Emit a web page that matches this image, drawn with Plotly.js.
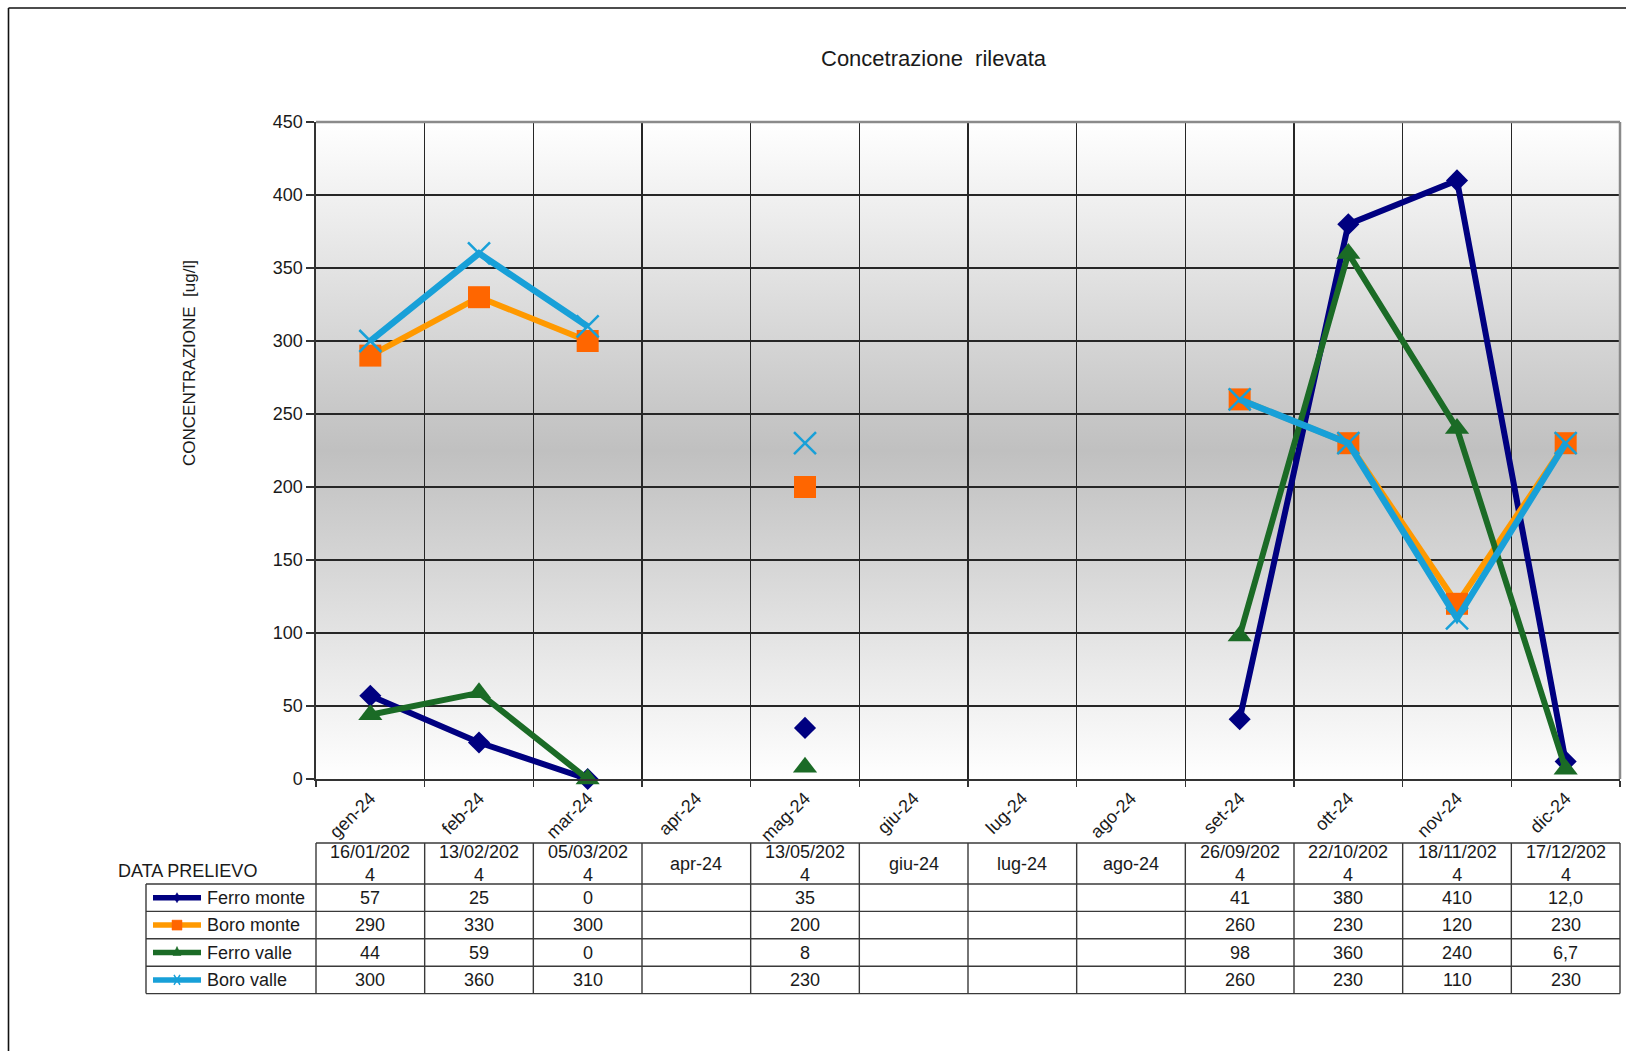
<!DOCTYPE html>
<html>
<head>
<meta charset="utf-8">
<script src="https://cdn.plot.ly/plotly-3.0.1.min.js"></script>
<style>html,body{margin:0;padding:0;background:#fff;}#chart{width:1626px;height:1051px;}</style>
</head>
<body>
<div id="chart"></div>
<script>
// ---------------- DATA ----------------
const months = ["gen-24","feb-24","mar-24","apr-24","mag-24","giu-24","lug-24","ago-24","set-24","ott-24","nov-24","dic-24"];
const sampleDates = ["16/01/2024","13/02/2024","05/03/2024","apr-24","13/05/2024","giu-24","lug-24","ago-24","26/09/2024","22/10/2024","18/11/2024","17/12/2024"];
const ferroMonte = [57, 25, 0, null, 35, null, null, null, 41, 380, 410, 12.0];
const boroMonte  = [290, 330, 300, null, 200, null, null, null, 260, 230, 120, 230];
const ferroValle = [44, 59, 0, null, 8, null, null, null, 98, 360, 240, 6.7];
const boroValle  = [300, 360, 310, null, 230, null, null, null, 260, 230, 110, 230];
const ferroDecimals = [0,0,0,0,0,0,0,0,0,0,0,1];
const boroDecimals  = [0,0,0,0,0,0,0,0,0,0,0,0];
const seriesNames = ["Ferro monte","Boro monte","Ferro valle","Boro valle"];
const chartTitle = "Concetrazione\u00a0 rilevata";
const yTitle = "CONCENTRAZIONE\u00a0 [ug/l]";
const tableCaption = "DATA PRELIEVO";

// ---------------- STYLE ----------------
const W = 1626, H = 1051;
const M = {l:316, r:6, t:122, b:272};
const PW = W - M.l - M.r, PH = H - M.t - M.b;
const X = px => (px - M.l) / PW;
const Y = py => (H - M.b - py) / PH;
const FONT = '"Liberation Sans", Arial, sans-serif';
const TXT = '#1a1a1a';

const styles = [
  {line:'#000080', marker:'#000080', symbol:'diamond', size:17, lw:6},
  {line:'#FF9900', marker:'#FF6600', symbol:'square', size:22, lw:6},
  {line:'#1B6B26', marker:'#1B6B26', symbol:'triangle-up', size:21, lw:6},
  {line:'#18A0D8', marker:'#18A0D8', symbol:'x-thin-open', size:22, lw:6.5}
];
const seriesData = [ferroMonte, boroMonte, ferroValle, boroValle];
const seriesDecimals = [ferroDecimals, boroDecimals, ferroDecimals, boroDecimals];

const traces = seriesData.map((vals, i) => ({
  type:'scatter', mode:'lines+markers', name:seriesNames[i],
  x: months, y: vals, connectgaps:false, cliponaxis:false,
  line:{color:styles[i].line, width:styles[i].lw},
  marker:{symbol:styles[i].symbol, size:styles[i].size, color:styles[i].marker,
          line:{color:styles[i].marker, width: styles[i].symbol==='x-thin-open'?2.5:0}},
  showlegend:false, hoverinfo:'x+y+name'
}));

// ---------------- TABLE (shapes + annotations) ----------------
const shapes = [], annotations = [];
const colW = PW / months.length;
const hdrTop = 843, hdrBot = 884, rowH = 27.4;
const tblLeft = 146, tblRight = M.l + PW;
const lineStyle = {color:'#3a3a3a', width:1.4};
function hline(py, x0, x1){ shapes.push({type:'line', xref:'paper', yref:'paper', x0:X(x0), x1:X(x1), y0:Y(py), y1:Y(py), line:lineStyle}); }
function vline(px, y0, y1){ shapes.push({type:'line', xref:'paper', yref:'paper', x0:X(px), x1:X(px), y0:Y(y0), y1:Y(y1), line:lineStyle}); }
const tblBot = hdrBot + rowH * seriesNames.length;
hline(hdrTop, M.l, tblRight);
for (let r = 0; r <= seriesNames.length; r++) hline(hdrBot + r*rowH, tblLeft, tblRight);
vline(tblLeft, hdrBot, tblBot);
for (let k = 0; k <= months.length; k++) vline(M.l + k*colW, hdrTop, tblBot);

function ann(px, py, text, opts){
  annotations.push(Object.assign({xref:'paper', yref:'paper', x:X(px), y:Y(py), text:text, showarrow:false,
    xanchor:'center', yanchor:'middle', font:{family:FONT, size:18, color:TXT}}, opts||{}));
}
ann(116, 871, tableCaption, {xanchor:'left'});
sampleDates.forEach((d, i) => {
  const t = d.length > 9 ? d.slice(0,9) + '<br>' + d.slice(9) : d;
  ann(M.l + (i+0.5)*colW, (hdrTop+hdrBot)/2, t);
});
seriesData.forEach((vals, r) => {
  const cy = hdrBot + (r+0.5)*rowH;
  vals.forEach((v, i) => {
    if (v === null) return;
    ann(M.l + (i+0.5)*colW, cy, v.toFixed(seriesDecimals[r][i]).replace('.', ','));
  });
  ann(205, cy, seriesNames[r], {xanchor:'left'});
  // legend sample line
  shapes.push({type:'line', xref:'paper', yref:'paper', x0:X(153), x1:X(201), y0:Y(cy), y1:Y(cy),
    line:{color:styles[r].line, width:5.5}});
  // legend sample marker
  const cx = 177, s = styles[r];
  let path;
  const P = (a,b) => X(a) + ',' + Y(b);
  if (s.symbol === 'diamond') path = 'M' + P(cx, cy-5) + 'L' + P(cx+3, cy) + 'L' + P(cx, cy+5) + 'L' + P(cx-3, cy) + 'Z';
  else if (s.symbol === 'square') path = 'M' + P(cx-5, cy-5) + 'L' + P(cx+5, cy-5) + 'L' + P(cx+5, cy+5) + 'L' + P(cx-5, cy+5) + 'Z';
  else if (s.symbol === 'triangle-up') path = 'M' + P(cx, cy-6) + 'L' + P(cx+4, cy+3) + 'L' + P(cx-4, cy+3) + 'Z';
  else path = 'M' + P(cx-3, cy-5) + 'L' + P(cx+3, cy+5) + 'M' + P(cx+3, cy-5) + 'L' + P(cx-3, cy+5);
  shapes.push({type:'path', xref:'paper', yref:'paper', path:path,
    fillcolor: s.symbol==='x-thin-open' ? 'rgba(0,0,0,0)' : s.marker,
    line:{color:s.marker, width: s.symbol==='x-thin-open' ? 1.5 : 0.5}});
});

// Plot frame (top / right in gray)
shapes.push({type:'line', xref:'paper', yref:'paper', x0:0, x1:1, y0:1, y1:1, line:{color:'#8a8a8a', width:2.5}, layer:'above'});
shapes.push({type:'line', xref:'paper', yref:'paper', x0:1, x1:1, y0:0, y1:1, line:{color:'#8a8a8a', width:2.5}, layer:'above'});
// Outer chart border (left + top)
shapes.push({type:'line', xref:'paper', yref:'paper', x0:X(8.5), x1:X(8.5), y0:Y(H+2), y1:Y(8), line:{color:'#111', width:1.6}});
shapes.push({type:'line', xref:'paper', yref:'paper', x0:X(8.5), x1:X(W+2), y0:Y(8), y1:Y(8), line:{color:'#111', width:1.6}});

// Titles
annotations.push({xref:'paper', yref:'paper', x:X(934), y:Y(58), text:chartTitle, showarrow:false,
  xanchor:'center', yanchor:'middle', font:{family:FONT, size:22, color:TXT}});
annotations.push({xref:'paper', yref:'paper', x:X(189), y:Y(363), text:yTitle, showarrow:false, textangle:-90,
  xanchor:'center', yanchor:'middle', font:{family:FONT, size:17, color:TXT}});

// Gradient background image
const svg = "<svg xmlns='http://www.w3.org/2000/svg' width='10' height='100' viewBox='0 0 10 100' preserveAspectRatio='none'>" +
  "<defs><linearGradient id='g' x1='0' y1='0' x2='0' y2='1'>" +
  "<stop offset='0' stop-color='#ffffff'/><stop offset='0.5' stop-color='#c0c0c0'/><stop offset='1' stop-color='#ffffff'/>" +
  "</linearGradient></defs><rect width='10' height='100' fill='url(#g)'/></svg>";
const bgImg = 'data:image/svg+xml;charset=utf-8,' + encodeURIComponent(svg);

const layout = {
  width:W, height:H, margin:M,
  paper_bgcolor:'#ffffff', plot_bgcolor:'#ffffff',
  font:{family:FONT, size:18, color:TXT},
  showlegend:false,
  xaxis:{type:'category', categoryorder:'array', categoryarray:months, range:[-0.5, months.length-0.5],
    tickson:'boundaries', showgrid:true, gridcolor:'#262626', gridwidth:1.2,
    ticks:'outside', ticklen:6, tickcolor:'#333', tickwidth:1.4, tickangle:-45,
    showline:true, linecolor:'#333', linewidth:1.6, tickfont:{family:FONT, size:18, color:TXT}, fixedrange:true},
  yaxis:{range:[0,450], dtick:50, tick0:0, showgrid:true, gridcolor:'#262626', gridwidth:1.2,
    zeroline:false, ticks:'outside', ticklen:8, tickcolor:'#333', tickwidth:1.4,
    showline:true, linecolor:'#333', linewidth:1.6, tickfont:{family:FONT, size:18, color:TXT}, fixedrange:true},
  images:[{source:bgImg, xref:'paper', yref:'paper', x:0, y:1, sizex:1, sizey:1, sizing:'stretch',
    xanchor:'left', yanchor:'top', layer:'below'}],
  shapes:shapes, annotations:annotations
};

Plotly.newPlot('chart', traces, layout, {displayModeBar:false, staticPlot:true});
</script>
</body>
</html>
